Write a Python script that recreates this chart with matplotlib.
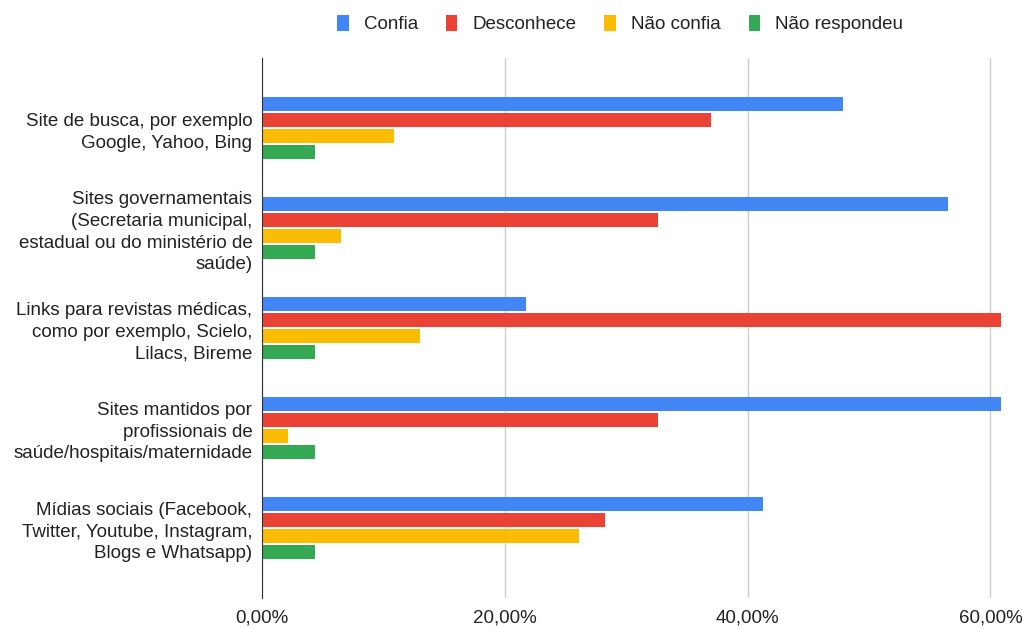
import matplotlib.pyplot as plt
import numpy as np
from matplotlib.patches import Patch
from matplotlib.ticker import FuncFormatter

plt.rcParams['font.family'] = ['Liberation Sans', 'DejaVu Sans']

categorias = [
    'Site de busca, por exemplo\nGoogle, Yahoo, Bing',
    'Sites governamentais\n(Secretaria municipal,\nestadual ou do ministério de\nsaúde)',
    'Links para revistas médicas,\ncomo por exemplo, Scielo,\nLilacs, Bireme',
    'Sites mantidos por\nprofissionais de\nsaúde/hospitais/maternidade',
    'Mídias sociais (Facebook,\nTwitter, Youtube, Instagram,\nBlogs e Whatsapp)',
]
confia = [0.4783, 0.5652, 0.2174, 0.6087, 0.4130]
desconhece = [0.3696, 0.3261, 0.6087, 0.3261, 0.2826]
nao_confia = [0.1087, 0.0652, 0.1304, 0.0217, 0.2609]
nao_respondeu = [0.0435, 0.0435, 0.0435, 0.0435, 0.0435]

series = [
    ('Confia', confia, '#4285F4'),
    ('Desconhece', desconhece, '#EA4335'),
    ('Não confia', nao_confia, '#FBBC04'),
    ('Não respondeu', nao_respondeu, '#34A853'),
]
ticks = [0, 0.2, 0.4, 0.6]

fig = plt.figure(figsize=(10.23, 6.28), dpi=100)
ax = fig.add_axes([262/1023, 30/628, 743/1023, 540/628])

y = np.arange(len(categorias))
for k, (nome, vals, cor) in enumerate(series):
    ax.barh(y - 0.24 + k*0.16, vals, height=0.135, color=cor, zorder=3)

ax.set_xlim(0, 0.612)
ax.set_ylim(4.7, -0.7)
ax.set_xticks(ticks)
ax.xaxis.set_major_formatter(FuncFormatter(lambda v, p: f'{v*100:.2f}%'.replace('.', ',')))
ax.set_yticks(y)
ax.set_yticklabels(categorias, fontsize=13.5, color='#222222', ha='right')
for t in ax.get_yticklabels():
    t.set_linespacing(1.35)
ax.tick_params(axis='x', labelsize=13.5, labelcolor='#222222', length=0, pad=8)
ax.tick_params(axis='y', length=0, pad=7)
ax.grid(axis='x', color='#cccccc', linewidth=1, zorder=0)
for s in ['top', 'right', 'bottom']:
    ax.spines[s].set_visible(False)
ax.spines['left'].set_color('#333333')
ax.spines['left'].set_zorder(4)

handles = [Patch(facecolor=c, label=n) for n, v, c in series]
fig.legend(handles=handles, loc='center', bbox_to_anchor=(620/1023, 1 - 24/628), ncol=4,
           frameon=False, fontsize=13.5, handlelength=0.6, handleheight=1.0,
           handletextpad=0.8, columnspacing=1.5, labelcolor='#222222')

fig.savefig('out.png', dpi=100)
